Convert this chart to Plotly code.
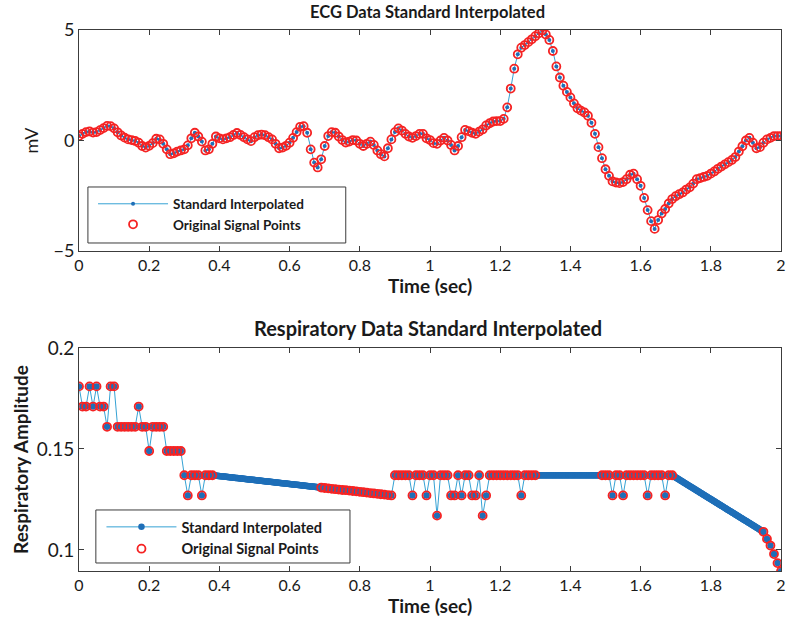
import numpy as np
import plotly.graph_objects as go

# ---------------- data ----------------
ecg_time = [round(i * 0.01, 2) for i in range(201)]
ecg_mv = [
    0.20, 0.30, 0.38, 0.41, 0.36, 0.38, 0.47, 0.56, 0.66, 0.65,
    0.55, 0.37, 0.23, 0.13, 0.05, 0.02, -0.02, -0.10, -0.25, -0.32,
    -0.24, -0.12, 0.08, 0.05, -0.15, -0.40, -0.62, -0.58, -0.50, -0.45,
    -0.40, -0.22, 0.10, 0.35, 0.18, -0.05, -0.45, -0.40, -0.15, 0.18,
    0.10, 0.05, 0.10, 0.15, 0.25, 0.34, 0.25, 0.15, 0.05, -0.03,
    0.15, 0.24, 0.27, 0.24, 0.15, 0.05, -0.15, -0.35, -0.32, -0.24,
    -0.10, 0.12, 0.38, 0.62, 0.65, 0.35, -0.40, -1.00, -1.22, -0.85,
    -0.25, 0.20, 0.38, 0.35, 0.18, 0.02, -0.09, -0.05, 0.02, 0.00,
    -0.15, -0.25, -0.15, -0.05, -0.20, -0.45, -0.62, -0.72, -0.35, 0.05,
    0.38, 0.55, 0.45, 0.30, 0.18, 0.12, 0.20, 0.30, 0.30, 0.10,
    0.02, -0.12, -0.15, 0.00, 0.12, 0.00, -0.20, -0.45, -0.25, 0.15,
    0.48, 0.42, 0.35, 0.30, 0.40, 0.50, 0.68, 0.78, 0.86, 0.88,
    0.88, 0.98, 1.50, 2.35, 3.25, 3.90, 4.20, 4.32, 4.45, 4.58,
    4.72, 4.85, 4.98, 4.80, 4.55, 4.05, 3.35, 2.85, 2.48, 2.20,
    1.95, 1.68, 1.46, 1.35, 1.27, 1.12, 0.80, 0.30, -0.30, -0.80,
    -1.30, -1.60, -1.85, -1.90, -1.93, -1.88, -1.75, -1.55, -1.50, -1.75,
    -2.05, -2.60, -3.15, -3.65, -4.00, -3.60, -3.30, -3.10, -2.85, -2.65,
    -2.52, -2.43, -2.35, -2.22, -2.12, -1.95, -1.75, -1.70, -1.65, -1.60,
    -1.50, -1.40, -1.28, -1.18, -1.08, -0.98, -0.88, -0.75, -0.50, -0.26,
    0.00, 0.12, -0.10, -0.35, -0.30, -0.10, 0.05, 0.12, 0.20, 0.20,
    0.20,
]

resp_time = (
    [round(0.00 + i * 0.01, 2) for i in range(39)]     # 0.00 .. 0.38
    + [round(0.69 + i * 0.01, 2) for i in range(21)]   # 0.69 .. 0.89
    + [round(0.90 + i * 0.01, 2) for i in range(41)]   # 0.90 .. 1.30
    + [round(1.49 + i * 0.01, 2) for i in range(21)]   # 1.49 .. 1.69
    + [round(1.95 + i * 0.01, 2) for i in range(6)]    # 1.95 .. 2.00
)
resp_amp = [
    # 0.00 .. 0.38
    0.181, 0.171, 0.171, 0.181, 0.171, 0.181, 0.171, 0.171, 0.161, 0.181,
    0.181, 0.161, 0.161, 0.161, 0.161, 0.161, 0.161, 0.171, 0.161, 0.161,
    0.149, 0.161, 0.161, 0.161, 0.161, 0.149, 0.149, 0.149, 0.149, 0.149,
    0.137, 0.127, 0.137, 0.137, 0.137, 0.127, 0.137, 0.137, 0.137,
    # 0.69 .. 0.89
    0.1309, 0.1307, 0.1305, 0.1303, 0.1301, 0.1299, 0.1297, 0.1296, 0.1294, 0.1292,
    0.1290, 0.1288, 0.1286, 0.1284, 0.1282, 0.1280, 0.1278, 0.1276, 0.1274, 0.1272,
    0.1270,
    # 0.90 .. 1.30
    0.137, 0.137, 0.137, 0.137, 0.137, 0.127, 0.137, 0.137, 0.137, 0.127,
    0.137, 0.137, 0.117, 0.137, 0.137, 0.137, 0.127, 0.127, 0.137, 0.127,
    0.137, 0.137, 0.127, 0.127, 0.137, 0.117, 0.127, 0.137, 0.137, 0.137,
    0.137, 0.137, 0.137, 0.137, 0.137, 0.137, 0.127, 0.137, 0.137, 0.137,
    0.137,
    # 1.49 .. 1.69
    0.137, 0.137, 0.137, 0.127, 0.137, 0.137, 0.127, 0.137, 0.137, 0.137,
    0.137, 0.137, 0.137, 0.127, 0.137, 0.137, 0.137, 0.137, 0.127, 0.137,
    0.137,
    # 1.95 .. 2.00
    0.109, 0.1055, 0.1022, 0.098, 0.0935, 0.0895,
]

x_ticks = [0, 0.2, 0.4, 0.6, 0.8, 1, 1.2, 1.4, 1.6, 1.8, 2]
x_tick_labels = ["0", "0.2", "0.4", "0.6", "0.8", "1", "1.2", "1.4", "1.6", "1.8", "2"]
ecg_y_ticks = [-5, 0, 5]
resp_y_ticks = [0.1, 0.15, 0.2]
resp_y_tick_labels = ["0.1", "0.15", "0.2"]

# standard (linear) interpolation of the respiratory signal across its gaps
t_o = np.array(resp_time)
v_o = np.array(resp_amp)
fill = []
for a, b in zip(t_o[:-1], t_o[1:]):
    if b - a > 0.015:
        fill.extend(np.arange(a + 0.002, b - 1e-9, 0.002))
resp_interp_t = np.sort(np.concatenate([t_o, np.array(fill)]))
resp_interp_v = np.interp(resp_interp_t, t_o, v_o)

# ---------------- styling ----------------
FONT = "Lato"
BLUE_LINE = "#35a2d4"
BLUE_MARK = "#1f6fb8"
RED = "#f52323"
AXIS = "#3c3c3c"
TXT = "#1a1a1a"

fig = go.Figure()

fig.add_trace(go.Scatter(
    x=ecg_time, y=ecg_mv, mode="lines+markers", name="Standard Interpolated",
    line=dict(color=BLUE_LINE, width=1), marker=dict(color=BLUE_MARK, size=4),
    xaxis="x", yaxis="y", legend="legend"))
fig.add_trace(go.Scatter(
    x=ecg_time, y=ecg_mv, mode="markers", name="Original Signal Points",
    marker=dict(symbol="circle-open", color=RED, size=8, line=dict(width=1.8)),
    xaxis="x", yaxis="y", legend="legend"))

fig.add_trace(go.Scatter(
    x=resp_interp_t, y=resp_interp_v, mode="lines+markers", name="Standard Interpolated",
    line=dict(color=BLUE_LINE, width=1), marker=dict(color=BLUE_MARK, size=6.5),
    xaxis="x2", yaxis="y2", legend="legend2"))
fig.add_trace(go.Scatter(
    x=resp_time, y=resp_amp, mode="markers", name="Original Signal Points",
    marker=dict(symbol="circle-open", color=RED, size=8, line=dict(width=1.8)),
    xaxis="x2", yaxis="y2", legend="legend2"))

axis_common = dict(showline=True, mirror="ticks", linecolor=AXIS, linewidth=1,
                   ticks="inside", ticklen=5, tickcolor=AXIS, showgrid=False,
                   zeroline=False, ticklabeloverflow="allow",
                   tickfont=dict(family=FONT, size=16, color=TXT))

fig.update_layout(
    width=789, height=627,
    margin=dict(l=79, r=3, t=30, b=56),
    paper_bgcolor="white", plot_bgcolor="white",
    font=dict(family=FONT, color=TXT),
    xaxis=dict(domain=[0, 1], anchor="y", range=[0, 2], tickvals=x_ticks,
               ticktext=x_tick_labels,
               title=dict(text="<b>Time (sec)</b>", font=dict(family=FONT, size=19), standoff=0),
               **axis_common),
    yaxis=dict(domain=[0.5915, 1], anchor="x", range=[-5, 5], tickvals=ecg_y_ticks,
               title=dict(text="mV", font=dict(family=FONT, size=18), standoff=10),
               **{**axis_common, "tickfont": dict(family=FONT, size=18, color=TXT)}),
    xaxis2=dict(domain=[0, 1], anchor="y2", range=[0, 2], tickvals=x_ticks,
                ticktext=x_tick_labels,
                title=dict(text="<b>Time (sec)</b>", font=dict(family=FONT, size=19), standoff=0),
                **axis_common),
    yaxis2=dict(domain=[0, 0.4122], anchor="x2", range=[0.0896, 0.2], tickvals=resp_y_ticks,
                ticktext=resp_y_tick_labels,
                title=dict(text="<b>Respiratory Amplitude</b>", font=dict(family=FONT, size=19), standoff=2),
                **{**axis_common, "tickfont": dict(family=FONT, size=19, color=TXT)}),
    legend=dict(x=0.020, y=0.707, xanchor="left", yanchor="top",
                bgcolor="rgba(0,0,0,0)", borderwidth=0, itemwidth=70,
                font=dict(family=FONT, size=13.5, color=TXT, weight="bold"),
                tracegroupgap=0),
    legend2=dict(x=0.032, y=0.111, xanchor="left", yanchor="top",
                 bgcolor="rgba(0,0,0,0)", borderwidth=0, itemwidth=70,
                 font=dict(family=FONT, size=14.5, color=TXT, weight="bold"),
                 tracegroupgap=0),
    showlegend=True,
    annotations=[
        dict(text="<b>ECG Data Standard Interpolated</b>", xref="paper", yref="paper",
             x=0.497, y=1.0333, xanchor="center", yanchor="middle", showarrow=False,
             font=dict(family=FONT, size=16.5, color=TXT)),
        dict(text="<b>Respiratory Data Standard Interpolated</b>", xref="paper", yref="paper",
             x=0.497, y=0.449, xanchor="center", yanchor="middle", showarrow=False,
             font=dict(family=FONT, size=20, color=TXT)),
    ],
    shapes=[
        dict(type="rect", xref="paper", yref="paper", x0=0.0127, x1=0.380, y0=0.6063, y1=0.7098,
             line=dict(color=AXIS, width=1), fillcolor="white", layer="below"),
        dict(type="rect", xref="paper", yref="paper", x0=0.0240, x1=0.386, y0=0.0148, y1=0.1128,
             line=dict(color=AXIS, width=1), fillcolor="white", layer="below"),
    ],
)

fig.write_html("out.html")
